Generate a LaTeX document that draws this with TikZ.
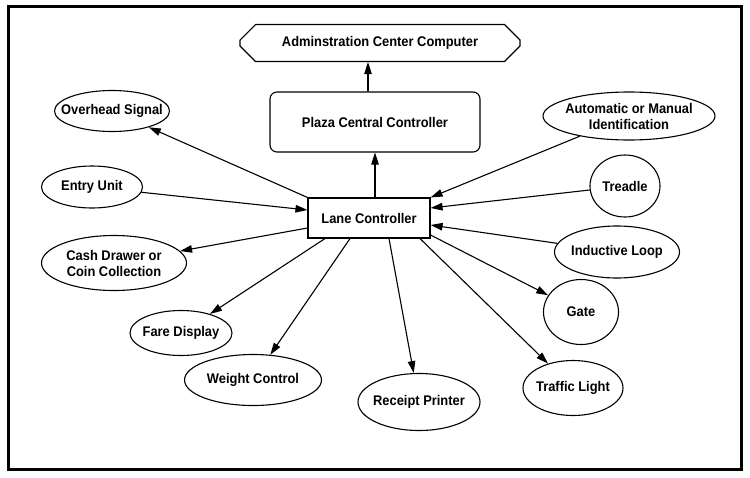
\documentclass[tikz,border=0pt]{standalone}
\usepackage{fontspec}
\setmainfont{Liberation Sans}[FakeStretch=0.92]
\usetikzlibrary{shapes.misc,shapes.geometric,arrows.meta}

\begin{document}
\begin{tikzpicture}[x=1pt,y=-1pt,line width=1.1pt,
    every node/.style={font=\bfseries\fontsize{14}{16}\selectfont,align=center},
    unit/.style={draw,ellipse,inner xsep=-12pt,inner ysep=0pt},
    link/.style={-{Triangle[length=12pt,width=7.5pt]}}]

          \useasboundingbox (0,0) rectangle (750,477);

          \coordinate (c1) at (380,43);
          \coordinate (c2) at (375,122);
          \coordinate (c3) at (369,218);
          \coordinate (c4) at (112,111);
          \coordinate (c5) at (629,116);
          \coordinate (c6) at (92,187);
          \coordinate (c7) at (625,186);
          \coordinate (c8) at (114,263);
          \coordinate (c9) at (617,252);
          \coordinate (c10) at (181,333);
          \coordinate (c11) at (581,312);
          \coordinate (c12) at (253,380);
          \coordinate (c13) at (419,402);
          \coordinate (c14) at (573,388);

          \draw[line width=3pt] (8,6) rectangle (741,469);

        \node[draw,chamfered rectangle,chamfered rectangle xsep=7pt,chamfered rectangle ysep=9pt,
              minimum width=280pt,minimum height=37pt,inner sep=0pt] (admin) at (c1) {Adminstration Center Computer};
        \node[draw,rounded corners=7pt,minimum width=210pt,minimum height=60pt] (plaza) at (c2) {Plaza Central Controller};
        \node[draw,minimum width=122pt,minimum height=40pt] (lane) at (c3) {Lane Controller};

        \node[unit,minimum width=115pt,minimum height=41pt] (overhead) at (c4) {Overhead Signal};
        \node[unit,minimum width=172pt,minimum height=48pt] (ident) at (c5) {Automatic or Manual\\Identification};
        \node[unit,minimum width=101pt,minimum height=42pt] (entry) at (c6) {Entry Unit};
        \node[unit,minimum width=70pt,minimum height=62pt] (treadle) at (c7) {Treadle};
        \node[unit,minimum width=145pt,minimum height=55pt] (cash) at (c8) {Cash Drawer or\\Coin Collection};
        \node[unit,minimum width=125pt,minimum height=52pt] (loop) at (c9) {Inductive Loop};
        \node[unit,minimum width=102pt,minimum height=45pt] (fare) at (c10) {Fare Display};
        \node[unit,minimum width=75pt,minimum height=65pt] (gate) at (c11) {Gate};
        \node[unit,minimum width=137pt,minimum height=51pt] (weight) at (c12) {Weight Control};
        \node[unit,minimum width=122pt,minimum height=57pt] (receipt) at (c13) {Receipt Printer};
        \node[unit,minimum width=100pt,minimum height=55pt] (traffic) at (c14) {Traffic Light};

        \draw[link] ([xshift=-7pt]plaza.north) -- ([xshift=-7pt]plaza.north |- admin.south);
        \draw[link] (lane.north -| plaza.south) -- (plaza.south);
        \draw[link] (lane.north west) -- (overhead);
        \draw[link] (entry) -- ([yshift=8pt]lane.west);
        \draw[link] ([yshift=-10pt]lane.west) -- (cash);
        \draw[link] ([xshift=-44pt]lane.south) -- (fare);
        \draw[link] ([xshift=-19pt]lane.south) -- (weight);
        \draw[link] ([xshift=20pt]lane.south) -- (receipt);
        \draw[link] ([xshift=51pt]lane.south) -- (traffic);
        \draw[link] ([yshift=-17pt]lane.east) -- (gate);
        \draw[link] (loop) -- ([yshift=-7pt]lane.east);
        \draw[link] (treadle) -- ([yshift=10pt]lane.east);
        \draw[link] (ident) -- (lane.north east);
        \end{tikzpicture}
\end{document}
